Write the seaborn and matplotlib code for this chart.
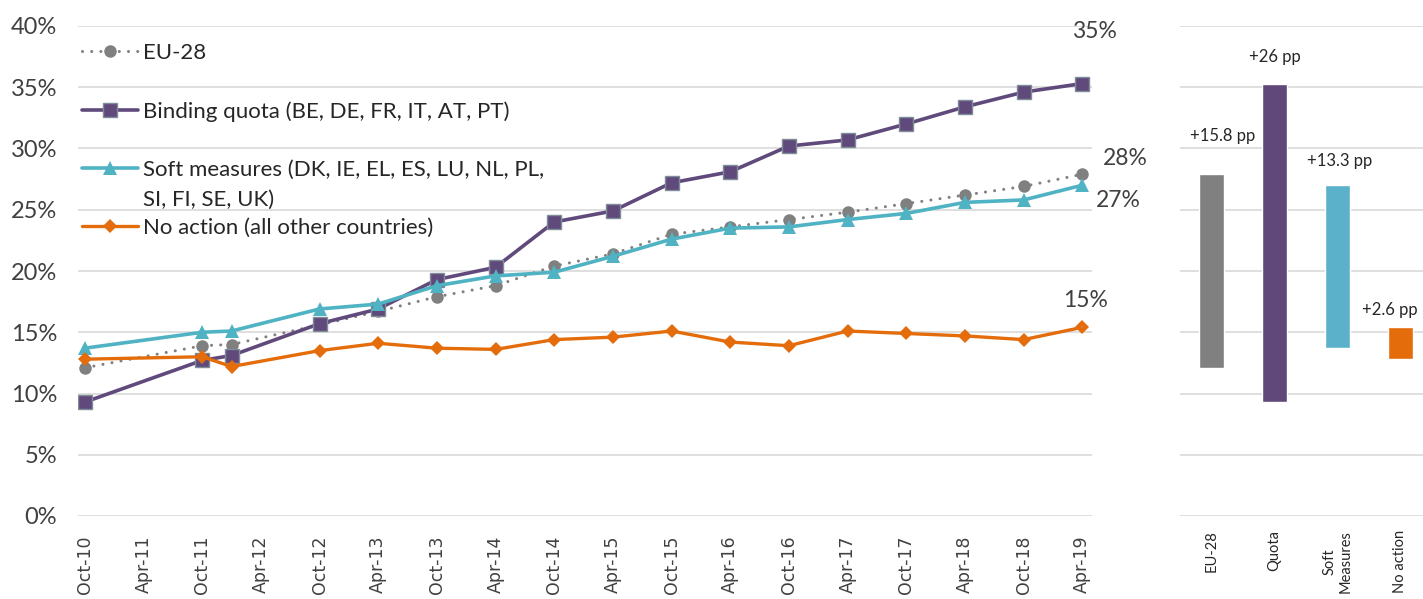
import matplotlib
matplotlib.use('Agg')
import matplotlib.pyplot as plt
import seaborn as sns
import pandas as pd
import numpy as np

# survey dates and shares of women (%) per group
dates = ['2010-10', '2011-10', '2012-01', '2012-10', '2013-04', '2013-10', '2014-04',
         '2014-10', '2015-04', '2015-10', '2016-04', '2016-10', '2017-04', '2017-10',
         '2018-04', '2018-10', '2019-04']
eu28 = [12.1, 13.9, 14.0, 15.6, 16.7, 17.9, 18.8, 20.4, 21.4, 23.0, 23.6, 24.2, 24.8,
        25.5, 26.2, 26.9, 27.9]
quota = [9.3, 12.7, 13.1, 15.7, 16.9, 19.3, 20.3, 24.0, 24.9, 27.2, 28.1, 30.2, 30.7,
         32.0, 33.4, 34.6, 35.3]
soft = [13.7, 15.0, 15.1, 16.9, 17.3, 18.8, 19.6, 19.9, 21.2, 22.6, 23.5, 23.6, 24.2,
        24.7, 25.6, 25.8, 27.0]
no_action = [12.8, 13.0, 12.2, 13.5, 14.1, 13.7, 13.6, 14.4, 14.6, 15.1, 14.2, 13.9, 15.1,
             14.9, 14.7, 14.4, 15.4]

series_labels = ['EU-28',
                 'Binding quota (BE, DE, FR, IT, AT, PT)',
                 'Soft measures (DK, IE, EL, ES, LU, NL, PL,',
                 'No action (all other countries)']
soft_label_cont = 'SI, FI, SE, UK)'
bar_labels = ['EU-28', 'Quota', 'Soft\nMeasures', 'No action']

colors = ['#808080', '#604A7B', '#4FB3C3', '#E46C0A']
bar_colors = ['#808080', '#60497A', '#5BB1C9', '#E46C0A']

sns.set_theme(style='white')
plt.rcParams['font.family'] = ['Lato', 'DejaVu Sans']
txt = '#404040'

d = pd.to_datetime(dates)
months = (d.year - 2010) * 12 + d.month - 10
tick_dates = pd.date_range(d[0], d[-1], freq='6MS')
tick_pos = (tick_dates.year - 2010) * 12 + tick_dates.month - 10
tick_labels = tick_dates.strftime('%b-%y')

fig = plt.figure(figsize=(14.23, 5.99), dpi=100)
ax = fig.add_axes([78 / 1423, 1 - 516 / 599, 1014 / 1423, 490 / 599])
ax2 = fig.add_axes([1180 / 1423, 1 - 516 / 599, 252 / 1423, 490 / 599])

styles = [
    dict(marker='o', markersize=9, linewidth=2.2, linestyle=(0, (0.01, 3.0)),
         dash_capstyle='round', markeredgewidth=0),
    dict(marker='s', markersize=9.5, linewidth=2.6, markeredgecolor='#7F8C99',
         markeredgewidth=1),
    dict(marker='^', markersize=10, linewidth=2.6, markeredgewidth=0),
    dict(marker='D', markersize=7.5, linewidth=2.4, markeredgewidth=0),
]
all_series = [eu28, quota, soft, no_action]
for vals, lab, col, st in zip(all_series, series_labels, colors, styles):
    sns.lineplot(x=months, y=np.array(vals) / 100, ax=ax, color=col, label=lab, **st)

ax.set_xlim(-0.7, 103)
ax.set_ylim(0, 0.40)
ax.set_yticks(np.arange(0, 0.41, 0.05))
ax.yaxis.set_major_formatter(matplotlib.ticker.PercentFormatter(1.0, decimals=0))
ax.set_xticks(tick_pos)
ax.set_xticklabels(tick_labels, rotation=90, family='DejaVu Sans', fontsize=12.5, color=txt)
ax.tick_params(axis='y', labelsize=17, labelcolor=txt, length=0, pad=15)
ax.tick_params(axis='x', length=0, pad=14)
ax.grid(axis='y', color='#D9D9D9', linewidth=1.2)
ax.grid(axis='x', visible=False)
for s in ax.spines.values():
    s.set_visible(False)
ax.set_xlabel('')
ax.set_ylabel('')

leg = ax.legend(loc='upper left', bbox_to_anchor=(0.004, 0.965), frameon=False,
                fontsize=16, handlelength=2.5, handletextpad=0.25, labelspacing=1.71,
                borderpad=0, borderaxespad=0)
for t in leg.get_texts():
    t.set_color('#262626')

# second line of the soft-measures legend entry
fig.canvas.draw()
bb = leg.get_texts()[2].get_window_extent()
fig.text(bb.x0 / fig.bbox.width, (bb.y0 - 30) / fig.bbox.height, soft_label_cont,
         fontsize=16, color='#262626', ha='left', va='bottom')

# end-of-series labels
end_offsets = [(43, 16), (12, 52), (36, -15), (3, 27)]
for i, (vals, off) in enumerate(zip(all_series, end_offsets)):
    lab = f'{round(vals[-1]):.0f}%'
    arrow = None
    if i == 3:
        arrow = dict(arrowstyle='-', color='#A0A0A0', lw=0.8, shrinkA=9, shrinkB=3)
    ax.annotate(lab, (months[-1], vals[-1] / 100), xytext=off, textcoords='offset pixels',
                ha='center', va='center', fontsize=16.5, color=txt, arrowprops=arrow)

# right panel: change from first to last survey
starts = [v[0] for v in all_series]
ends = [v[-1] for v in all_series]
heights = [e - s for s, e in zip(starts, ends)]
xpos = np.arange(len(bar_labels))
ax2.bar(xpos, np.array(heights) / 100, bottom=np.array(starts) / 100, width=0.41,
        color=bar_colors, zorder=3)
label_offsets = [(11, 38), (0, 27), (2, 24), (-11, 17)]
for x, e, h, off in zip(xpos, ends, heights, label_offsets):
    ax2.annotate(f'+{round(h, 1):g} pp', (x, e / 100), xytext=off,
                 textcoords='offset pixels', ha='center', va='center',
                 fontsize=12, color='#262626')
ax2.set_xlim(-0.5, 3.5)
ax2.set_ylim(0, 0.40)
ax2.set_yticks(np.arange(0, 0.41, 0.05))
ax2.set_yticklabels([])
ax2.set_xticks(xpos)
ax2.set_xticklabels(bar_labels, rotation=90, fontsize=10.5, color='#262626')
ax2.tick_params(length=0, pad=10)
ax2.grid(axis='y', color='#D9D9D9', linewidth=1.2, zorder=0)
ax2.grid(axis='x', visible=False)
for s in ax2.spines.values():
    s.set_visible(False)

fig.savefig('out.png', dpi=100)
